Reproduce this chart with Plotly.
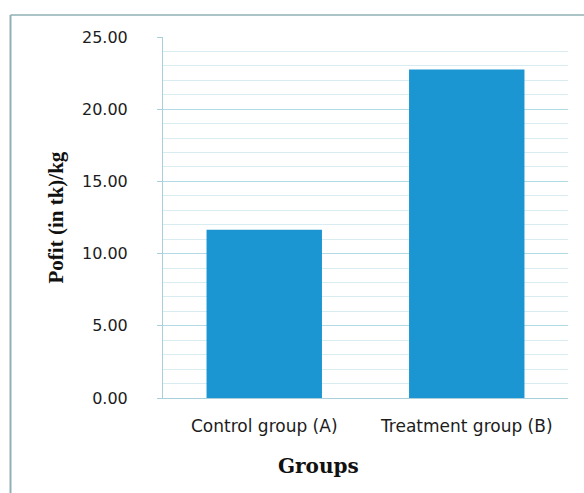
import plotly.graph_objects as go

# Profit per kg for each group
groups = ["Control group (A)", "Treatment group (B)"]
profit = [11.65, 22.75]
y_ticks = [0, 5, 10, 15, 20, 25]
y_tick_labels = ["0.00", "5.00", "10.00", "15.00", "20.00", "25.00"]

fig = go.Figure(
    go.Bar(
        x=groups,
        y=profit,
        marker=dict(color="#1b96d3", line=dict(width=0)),
        width=0.57,
    )
)

grid_major = "#b3dbe5"
grid_minor = "#d9ecf1"
axis_col = "#a9d0da"
y_tick_font = dict(family="DejaVu Sans", size=16, color="#1c1c1c")
x_tick_font = dict(family="DejaVu Sans", size=17, color="#1c1c1c")

fig.update_layout(
    width=584,
    height=493,
    margin=dict(l=163, r=16, t=37, b=95),
    paper_bgcolor="white",
    plot_bgcolor="white",
    showlegend=False,
    xaxis=dict(
        showgrid=False,
        showline=True,
        linecolor=axis_col,
        linewidth=1,
        tickfont=x_tick_font,
        ticks="",
        ticklabelstandoff=13,
    ),
    yaxis=dict(
        range=[0, 25],
        tickvals=y_ticks,
        ticktext=y_tick_labels,
        tickfont=y_tick_font,
        showgrid=True,
        gridcolor=grid_major,
        gridwidth=1,
        minor=dict(dtick=1, showgrid=True, gridcolor=grid_minor, gridwidth=1),
        showline=True,
        linecolor=axis_col,
        linewidth=1,
        ticks="outside",
        ticklen=5,
        tickcolor=axis_col,
        ticklabelstandoff=26,
        zeroline=False,
    ),
    font=dict(family="DejaVu Sans"),
)

# Axis titles
fig.add_annotation(
    text="<b>Pofit (in tk)/kg</b>",
    xref="paper", yref="paper",
    x=(55 - 163) / 405, y=0.5,
    textangle=-90, showarrow=False,
    font=dict(family="Liberation Serif", size=21, color="#111111"),
    xanchor="center", yanchor="middle",
)
fig.add_annotation(
    text="<b>Groups</b>",
    xref="paper", yref="paper",
    x=(318 - 163) / 405, y=(398 - 466) / 361,
    showarrow=False,
    font=dict(family="DejaVu Serif", size=20, color="#111111"),
    xanchor="center", yanchor="middle",
)

# Chart-area frame (left and top edges)
frame_col = "#8fb0b6"
fig.add_shape(type="line", xref="paper", yref="paper",
              x0=(10.5 - 163) / 405, x1=(10.5 - 163) / 405,
              y0=(398 - 15) / 361, y1=(398 - 500) / 361,
              line=dict(color=frame_col, width=2))
fig.add_shape(type="line", xref="paper", yref="paper",
              x0=(10.5 - 163) / 405, x1=(590 - 163) / 405,
              y0=(398 - 15) / 361, y1=(398 - 15) / 361,
              line=dict(color=frame_col, width=1.5))

fig.write_html("out.html")
